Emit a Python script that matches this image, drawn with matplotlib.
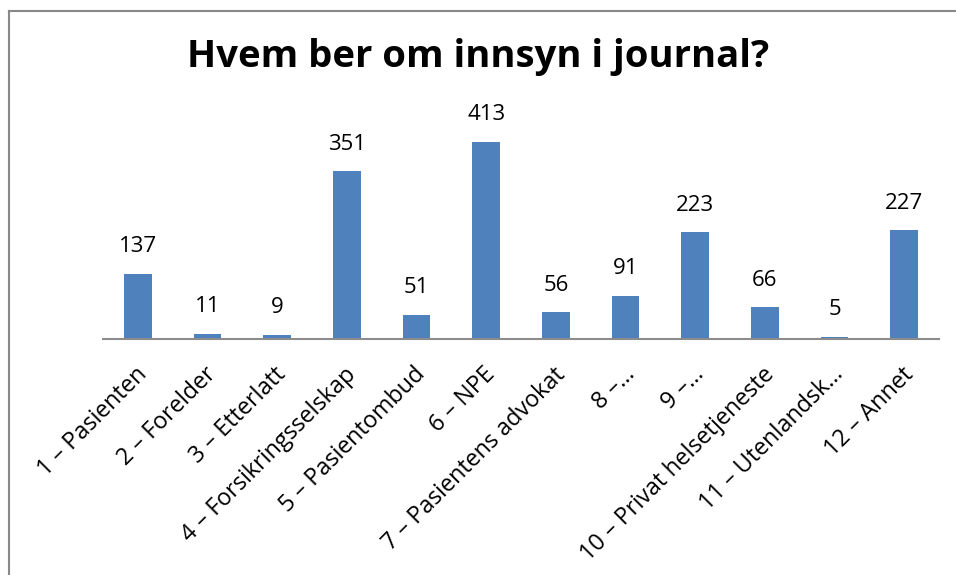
import matplotlib
matplotlib.use("Agg")
import matplotlib.pyplot as plt
import matplotlib.transforms as mtrans
from matplotlib.lines import Line2D

plt.rcParams["font.family"] = ["Open Sans", "DejaVu Sans"]

# data
categories = [
    "1 – Pasienten", "2 – Forelder", "3 – Etterlatt", "4 – Forsikringsselskap",
    "5 – Pasientombud", "6 – NPE", "7 – Pasientens advokat", "8 –…",
    "9 –…", "10 – Privat helsetjeneste", "11 – Utenlandsk…", "12 – Annet",
]
counts = [137, 11, 9, 351, 51, 413, 56, 91, 223, 66, 5, 227]

title = "Hvem ber om innsyn i journal?"
bar_color = "#4F81BD"

W, H = 956, 575
fig = plt.figure(figsize=(W / 100, H / 100), dpi=100)

# axes placed in pixel terms: baseline at y=339, x from 103 to 939
x0, x1 = 103, 939
y_base = 339
ymax = 450
px_per_unit = 0.478
y_top = y_base - ymax * px_per_unit
ax = fig.add_axes([x0 / W, 1 - y_base / H, (x1 - x0) / W, (y_base - y_top) / H])

pos = range(len(categories))
ax.bar(pos, counts, width=0.4, color=bar_color)
ax.set_xlim(-0.5, len(categories) - 0.5)
ax.set_ylim(0, ymax)

for p, v in zip(pos, counts):
    ax.annotate(str(v), (p, v), xytext=(0, 12), textcoords="offset points",
                ha="center", va="bottom", fontsize=16)

for side in ["top", "right", "left"]:
    ax.spines[side].set_visible(False)
ax.spines["bottom"].set_color("#8c8c8c")
ax.spines["bottom"].set_linewidth(1.5)
ax.set_yticks([])
ax.set_xticks(list(pos))
ax.set_xticklabels(categories, rotation=45, ha="right", rotation_mode="anchor",
                   fontsize=16.8)
ax.tick_params(axis="x", length=0, pad=17)
offset = mtrans.ScaledTranslation(-2 / 72, 0, fig.dpi_scale_trans)
for lbl in ax.get_xticklabels():
    lbl.set_transform(lbl.get_transform() + offset)

fig.text(0.5, 1 - 67 / H, title, ha="center", va="baseline",
         fontsize=27.5, fontweight="bold")

# chart frame (only top and left edge visible in the crop)
fig.add_artist(Line2D([8.5 / W, 8.5 / W], [0, 1 - 10.5 / H], transform=fig.transFigure,
                      color="#888888", lw=1.5))
fig.add_artist(Line2D([8.5 / W, 1], [1 - 10.5 / H, 1 - 10.5 / H], transform=fig.transFigure,
                      color="#888888", lw=1.5))

fig.savefig("out.png", dpi=100)
